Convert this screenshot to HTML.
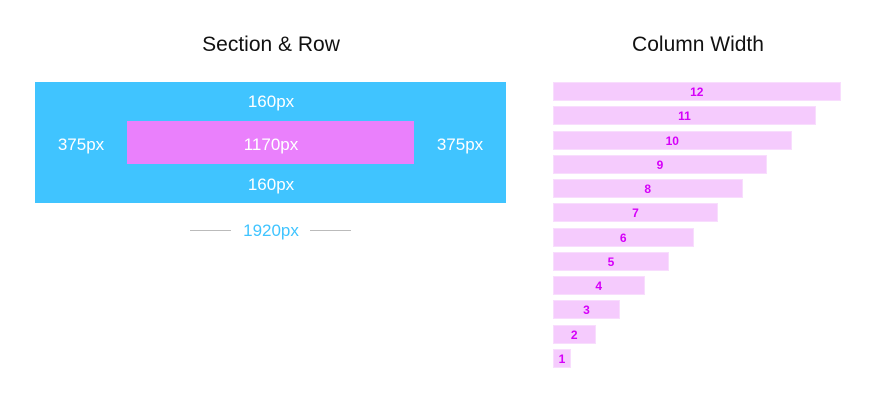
<!DOCTYPE html>
<html><head><meta charset="utf-8"><style>
body{margin:0;width:875px;height:400px;background:#fff;font-family:"Liberation Sans",sans-serif;position:relative;overflow:hidden}
.abs{position:absolute}
.t{position:absolute;transform:translate(-50%,-50%);white-space:nowrap}
</style></head><body>
<div class="t" style="left:271px;top:45px;font-size:21px;color:#111">Section &amp; Row</div>
<div class="abs" style="left:35px;top:82px;width:471px;height:121px;background:#40c4ff"></div>
<div class="abs" style="left:127px;top:121px;width:287px;height:43px;background:#ea80fc"></div>
<div class="t" style="left:271px;top:102px;font-size:17px;color:#fff">160px</div>
<div class="t" style="left:271px;top:185px;font-size:17px;color:#fff">160px</div>
<div class="t" style="left:81px;top:145px;font-size:17px;color:#fff">375px</div>
<div class="t" style="left:271px;top:145px;font-size:17px;color:#fff">1170px</div>
<div class="t" style="left:460px;top:145px;font-size:17px;color:#fff">375px</div>
<div class="abs" style="left:190px;top:230px;width:41px;height:1px;background:#bbb"></div>
<div class="abs" style="left:310px;top:230px;width:41px;height:1px;background:#bbb"></div>
<div class="t" style="left:271px;top:231px;font-size:17px;color:#40c4ff">1920px</div>
<div class="t" style="left:698px;top:45px;font-size:21px;color:#111">Column Width</div>
<div id="bars"></div>
<script>
const columns=[12,11,10,9,8,7,6,5,4,3,2,1];
const spans=[12,11,10,9,8,7,6,5,4,3,2,1];
const c=document.getElementById('bars');
const x0=553,unit=24.5,y0=82,pitch=24.27,h=19;
columns.forEach((col,i)=>{
  const w=unit*spans[i]-6.5;
  const b=document.createElement('div');
  
  
  b.style.cssText=`position:absolute;left:${x0}px;top:${y0+i*pitch}px;width:${w}px;height:${h}px;background:#f5cbfd;box-sizing:border-box;border:1px solid #f8ddfd`;
  c.appendChild(b);
  const t=document.createElement('div');
  
  
  t.className='t';
  t.textContent=spans[i];
  t.style.cssText+=`left:${x0+w/2}px;top:${y0+i*pitch+h/2+0.5}px;font-size:12px;font-weight:bold;color:#d500f9`;
  c.appendChild(t);
});
</script>
</body></html>
